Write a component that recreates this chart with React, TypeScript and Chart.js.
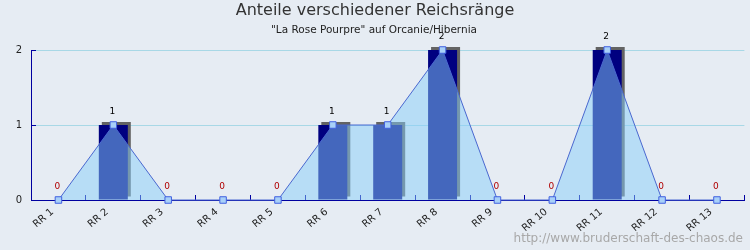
import React, { useEffect, useRef } from "react";
import { Chart, registerables } from "chart.js";

Chart.register(...registerables);

const categories = ["RR 1", "RR 2", "RR 3", "RR 4", "RR 5", "RR 6", "RR 7", "RR 8", "RR 9", "RR 10", "RR 11", "RR 12", "RR 13"];
const counts = [0, 1, 0, 0, 0, 1, 1, 2, 0, 0, 2, 0, 0];
const yTicks = [0, 1, 2];
const titleText = "Anteile verschiedener Reichsränge";
const subtitleText = "\"La Rose Pourpre\" auf Orcanie/Hibernia";
const watermarkText = "http://www.bruderschaft-des-chaos.de";

const FONT = "'DejaVu Sans', Verdana, sans-serif";
const BG = "#e6ecf3";

const decorPlugin = {
  id: "decor",
  beforeDraw(chart: any) {
    const ctx = chart.ctx;
    ctx.save();
    ctx.fillStyle = BG;
    ctx.fillRect(0, 0, chart.width, chart.height);
    ctx.restore();
  },
  beforeDatasetDraw(chart: any, args: any) {
    if (args.meta.type === "bar") {
      const ctx = chart.ctx;
      ctx.save();
      ctx.shadowColor = "#636363";
      ctx.shadowOffsetX = 3;
      ctx.shadowOffsetY = -3;
      ctx.shadowBlur = 0;
    }
  },
  afterDatasetDraw(chart: any, args: any) {
    if (args.meta.type === "bar") {
      chart.ctx.restore();
    }
  },
  afterDraw(chart: any) {
    const ctx = chart.ctx;
    ctx.save();
    ctx.textAlign = "center";
    ctx.textBaseline = "middle";
    ctx.fillStyle = "#333";
    ctx.font = `16px ${FONT}`;
    ctx.fillText(titleText, 375, 11);
    ctx.fillStyle = "#222";
    ctx.font = `10.5px ${FONT}`;
    ctx.fillText(subtitleText, 374, 30);

    const meta = chart.getDatasetMeta(0);
    ctx.font = `9px ${FONT}`;
    meta.data.forEach((pt: any, i: number) => {
      const v = counts[i];
      ctx.fillStyle = v === 0 ? "#b00000" : "#000";
      ctx.fillText(String(v), pt.x - 1, pt.y - 13);
    });

    ctx.textAlign = "right";
    ctx.fillStyle = "#a8a8a8";
    ctx.font = `12px ${FONT}`;
    ctx.fillText(watermarkText, 743, 239);
    ctx.restore();
  },
};

export default function App() {
  const ref = useRef<HTMLCanvasElement>(null);
  useEffect(() => {
    if (!ref.current) return;
    const chart = new Chart(ref.current, {
      type: "bar",
      data: {
        labels: categories,
        datasets: [
          {
            type: "line",
            data: counts,
            order: 0,
            fill: "origin",
            backgroundColor: "rgba(135,206,250,0.5)",
            borderColor: "#4a68d0",
            borderWidth: 1,
            tension: 0,
            pointStyle: "rect",
            pointRadius: 4.6,
            pointBackgroundColor: "#a8d0f8",
            pointBorderColor: "#4060e0",
            pointBorderWidth: 1,
            clip: false,
          } as any,
          {
            type: "bar",
            data: counts,
            order: 1,
            backgroundColor: "#000080",
            barThickness: 29,
            inflateAmount: 0,
            borderWidth: 0,
            clip: false,
          } as any,
        ],
      },
      options: {
        responsive: false,
        animation: false,
        devicePixelRatio: 1,
        layout: { padding: { top: 50, right: 4, left: 0, bottom: 0 } },
        plugins: {
          legend: { display: false },
          title: { display: false },
          tooltip: { enabled: false },
        },
        scales: {
          x: {
            offset: true,
            grid: {
              display: true,
              drawOnChartArea: false,
              drawTicks: true,
              tickLength: -5,
              color: "#0000a0",
              offset: true,
            },
            border: { display: true, color: "#0000a0", width: 1 },
            ticks: {
              autoSkip: false,
              minRotation: 40,
              maxRotation: 40,
              padding: 11,
              labelOffset: -6,
              color: "#222",
              font: { family: FONT, size: 10 },
            },
            afterFit(scale: any) {
              scale.height = 50;
            },
          },
          y: {
            min: 0,
            max: 2,
            afterBuildTicks(scale: any) {
              scale.ticks = yTicks.map((v) => ({ value: v }));
            },
            grid: {
              color: (c: any) => (c.tick && c.tick.value === 0 ? "rgba(0,0,0,0)" : "#a8d8e6"),
              tickColor: "#0000a0",
              tickLength: -5,
              drawTicks: true,
            },
            border: { display: true, color: "#0000a0", width: 1 },
            ticks: {
              padding: 14,
              color: "#222",
              font: { family: FONT, size: 10 },
            },
            afterFit(scale: any) {
              scale.width = 31;
            },
          },
        },
      },
      plugins: [decorPlugin],
    } as any);
    return () => chart.destroy();
  }, []);
  return (
    <div style={{ position: "absolute", left: 0, top: 0, width: 750, height: 250 }}>
      <canvas ref={ref} width={750} height={250} style={{ display: "block" }} />
    </div>
  );
}
